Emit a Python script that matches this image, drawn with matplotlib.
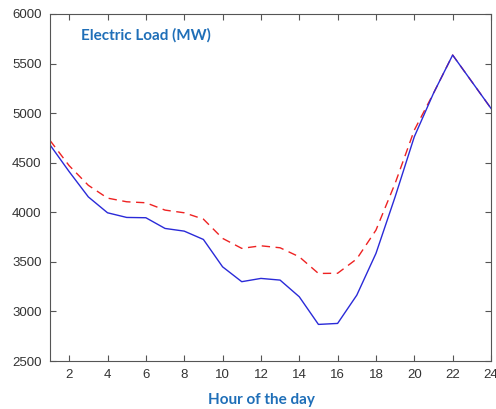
import numpy as np
import matplotlib
matplotlib.use("Agg")
from matplotlib import pyplot as plt

# hourly electric load (MW)
hours = np.arange(1, 25)
load_actual = [4680, 4410, 4155, 3995, 3948, 3945, 3837, 3810, 3726, 3450,
               3300, 3333, 3316, 3148, 2869, 2879, 3164, 3585, 4156, 4762,
               5200, 5586, 5317, 5048]
load_other = [4725, 4470, 4272, 4143, 4106, 4096, 4022, 3995, 3931, 3737,
              3636, 3662, 3642, 3551, 3383, 3385, 3530, 3820, 4292, 4829,
              5200, 5586, 5317, 5048]

xticks = list(range(2, 25, 2))
yticks = list(range(2500, 6001, 500))

fig = plt.figure(figsize=(4.96, 4.09), dpi=100)
ax = fig.add_axes([50/496, 1-361/409, 441/496, 347/409])

ax.plot(hours, load_other, color="#ee2222", lw=1.0, dashes=(6, 4))
ax.plot(hours, load_actual, color="#2a2ad8", lw=1.0)

ax.set_xlim(1, 24)
ax.set_ylim(2500, 6000)
ax.set_xticks(xticks)
ax.set_yticks(yticks)
ax.tick_params(direction="in", length=4, top=True, right=True,
               color="#555555", labelcolor="#333333", labelsize=9.5, pad=6)
for lab in ax.get_xticklabels() + ax.get_yticklabels():
    lab.set_family("Liberation Sans")
for sp in ax.spines.values():
    sp.set_color("#555555")
    sp.set_linewidth(0.8)

ax.text((81-50)/441, 1-21/347, "Electric Load (MW)", transform=ax.transAxes,
        ha="left", va="center", fontsize=11, fontweight="bold",
        family="Lato", color="#1f6fb8")
fig.text(261.5/496, 1-400/409, "Hour of the day", ha="center", va="center",
         fontsize=11, fontweight="bold", family="Lato", color="#1f6fb8")

fig.savefig("out.png", dpi=100)
